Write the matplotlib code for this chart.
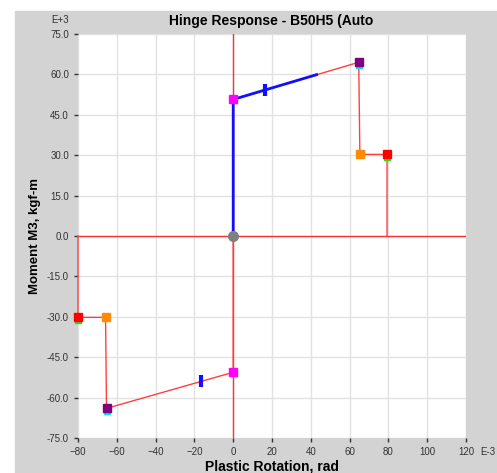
import matplotlib.pyplot as plt
from matplotlib.patches import Rectangle
import numpy as np

plt.rcParams['font.family'] = ['Liberation Sans', 'DejaVu Sans']

# ── Data (rotation in E-3 rad, moment in E+3 kgf-m) ───────────────────────────
pos_x = [0, 0, 64.7, 65.3, 79.3, 79.3]
pos_y = [0, 50.7, 64.5, 30.3, 30.3, 0]
neg_x = [0, 0, -65.3, -65.8, -80, -80]
neg_y = [0, -50.6, -64.0, -30.2, -30.2, 0]

# current state (thick blue) and step ticks
blue_x = [0, 0, 43]
blue_y = [0, 50.7, 59.9]
tick_x = [16.3, -16.8]
tick_y = [54.3, -54.0]

# key points: B (magenta), C (purple/cyan), D (orange), E (red/green)
b_x, b_y = [0, 0], [50.7, -50.6]
c_x, c_y = [64.7, -65.3], [64.5, -64.0]
d_x, d_y = [65.3, -65.8], [30.3, -30.2]
e_x, e_y = [79.3, -80], [30.3, -30.2]

xticks = np.arange(-80, 121, 20)
yticks = np.arange(-75, 76, 15)

fig = plt.figure(figsize=(4.97, 4.73), dpi=100)
fig.patches.append(Rectangle((15 / 497, 0), 1 - 15 / 497, 1 - 11 / 473,
                             transform=fig.transFigure, color='#d3d3d3',
                             zorder=-10))
ax = fig.add_axes([78 / 497, 1 - 438 / 473, 388 / 497, 404 / 473])
ax.set_facecolor('white')

ax.axhline(0, color='#ff3030', lw=1, zorder=2)
ax.axvline(0, color='#ff3030', lw=1, zorder=2)

red = '#ff4040'
ax.plot(pos_x, pos_y, color=red, lw=1, zorder=3)
ax.plot(neg_x, neg_y, color=red, lw=1, zorder=3, clip_on=False)
ax.plot(blue_x, blue_y, color='#1010ff', lw=2, zorder=4)
ax.plot(tick_x, tick_y, ls='none', marker='|', ms=9, mew=3,
        color='#1010ff', zorder=5)

ax.plot(c_x, [v - 1 for v in c_y], ls='none', marker='s', ms=5,
        color='#00e5ee', zorder=5)
ax.plot(e_x, [v - 1 for v in e_y], ls='none', marker='s', ms=5,
        color='#20e020', zorder=5, clip_on=False)
ax.plot(b_x, b_y, ls='none', marker='s', ms=5.5, color='#ff00ff', zorder=6)
ax.plot(c_x, c_y, ls='none', marker='s', ms=5.5, color='#800080', zorder=6)
ax.plot(d_x, d_y, ls='none', marker='s', ms=5.5, color='#ff8c00', zorder=6)
ax.plot(e_x, e_y, ls='none', marker='s', ms=5.5, color='#ff0000', zorder=6,
        clip_on=False)
ax.plot([0], [0], ls='none', marker='o', ms=7, color='#808080', zorder=7)

ax.set_xlim(-80, 120)
ax.set_ylim(-75, 75)
ax.set_xticks(xticks)
ax.set_yticks(yticks)
ax.set_yticklabels([f'{v:.1f}' for v in yticks])
ax.tick_params(labelsize=7, colors='#333333', length=3, width=1)
ax.grid(True, color='#e2e2e2', lw=1)
ax.set_axisbelow(True)
for s in ax.spines.values():
    s.set_visible(False)

ax.set_xlabel('Plastic Rotation, rad', fontsize=10, fontweight='bold',
              labelpad=2)
ax.set_ylabel('Moment M3, kgf-m', fontsize=9.5, fontweight='bold',
              labelpad=4)
fig.text(271 / 497, 1 - 21 / 473, 'Hinge Response - B50H5 (Auto',
         ha='center', va='center', fontsize=10, fontweight='bold')
fig.text(60 / 497, 1 - 20 / 473, 'E+3', ha='center', va='center',
         fontsize=7, color='#333333')
fig.text(480 / 497, 1 - 452 / 473, 'E-3', ha='left', va='center',
         fontsize=7, color='#333333')

fig.savefig('out.png', dpi=100)
